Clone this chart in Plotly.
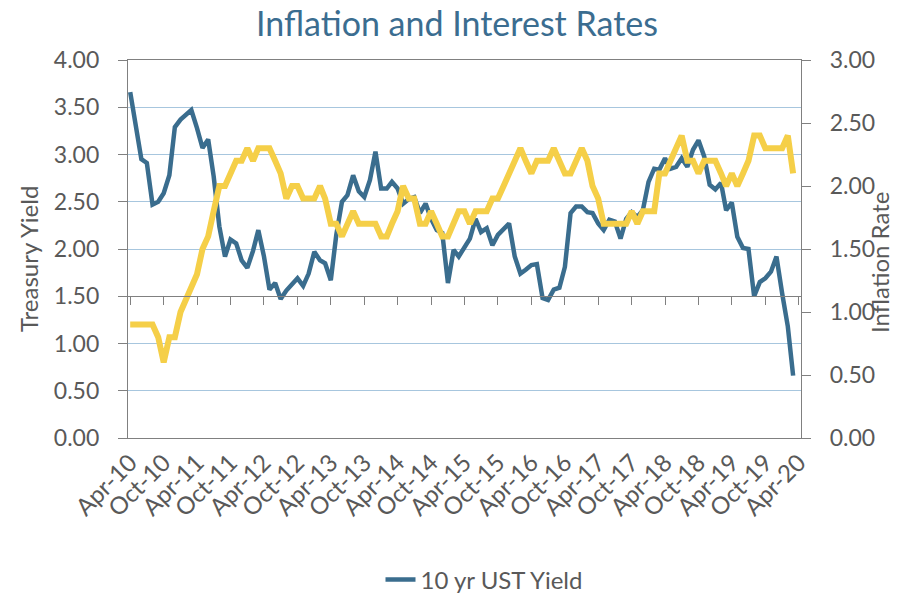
import plotly.graph_objects as go
import pandas as pd

months = pd.date_range("2010-04-01", periods=120, freq="MS")

ust_yield = [
    3.66, 3.30, 2.95, 2.91, 2.47, 2.50, 2.59, 2.78, 3.29, 3.37,
    3.42, 3.47, 3.28, 3.07, 3.16, 2.77, 2.24, 1.92, 2.10, 2.06,
    1.88, 1.80, 1.98, 2.20, 1.92, 1.57, 1.64, 1.47, 1.56, 1.63,
    1.69, 1.61, 1.74, 1.97, 1.88, 1.85, 1.67, 2.15, 2.50, 2.57,
    2.78, 2.61, 2.55, 2.73, 3.03, 2.64, 2.64, 2.71, 2.64, 2.48,
    2.53, 2.55, 2.38, 2.48, 2.32, 2.20, 2.17, 1.64, 1.99, 1.92,
    2.02, 2.11, 2.32, 2.18, 2.22, 2.04, 2.15, 2.22, 2.27, 1.92,
    1.74, 1.78, 1.83, 1.84, 1.48, 1.46, 1.57, 1.59, 1.81, 2.38,
    2.45, 2.45, 2.39, 2.38, 2.27, 2.20, 2.31, 2.29, 2.11, 2.32,
    2.39, 2.34, 2.41, 2.71, 2.85, 2.84, 2.96, 2.85, 2.87, 2.96,
    2.87, 3.05, 3.15, 2.98, 2.68, 2.63, 2.70, 2.41, 2.49, 2.13,
    2.01, 2.00, 1.50, 1.65, 1.69, 1.76, 1.92, 1.53, 1.18, 0.66,
]

inflation = [
    0.9, 0.9, 0.9, 0.9, 0.9, 0.8, 0.6, 0.8, 0.8, 1.0,
    1.1, 1.2, 1.3, 1.5, 1.6, 1.8, 2.0, 2.0, 2.1, 2.2,
    2.2, 2.3, 2.2, 2.3, 2.3, 2.3, 2.2, 2.1, 1.9, 2.0,
    2.0, 1.9, 1.9, 1.9, 2.0, 1.9, 1.7, 1.7, 1.6, 1.7,
    1.8, 1.7, 1.7, 1.7, 1.7, 1.6, 1.6, 1.7, 1.8, 2.0,
    1.9, 1.9, 1.7, 1.7, 1.8, 1.7, 1.6, 1.6, 1.7, 1.8,
    1.8, 1.7, 1.8, 1.8, 1.8, 1.9, 1.9, 2.0, 2.1, 2.2,
    2.3, 2.2, 2.1, 2.2, 2.2, 2.2, 2.3, 2.2, 2.1, 2.1,
    2.2, 2.3, 2.2, 2.0, 1.9, 1.7, 1.7, 1.7, 1.7, 1.7,
    1.8, 1.7, 1.8, 1.8, 1.8, 2.1, 2.1, 2.2, 2.3, 2.4,
    2.2, 2.2, 2.1, 2.2, 2.2, 2.2, 2.1, 2.0, 2.1, 2.0,
    2.1, 2.2, 2.4, 2.4, 2.3, 2.3, 2.3, 2.3, 2.4, 2.1,
]

left_ticks = [0, 0.5, 1.0, 1.5, 2.0, 2.5, 3.0, 3.5, 4.0]
right_ticks = [0, 0.5, 1.0, 1.5, 2.0, 2.5, 3.0]

BLUE = "#3A6D8E"
YELLOW = "#F5CF48"
GRAY = "#595959"
AXIS = "#808080"
GRID = "#A7C6DE"
FONT = "Lato"

x_range = ["2010-03-20", "2020-04-13"]

# page is offset by the browser's default 8px body margin
OFF = 8
W, H = 903 - OFF, 594 - OFF
plot_l, plot_r, plot_t, plot_b = 128, 801, 60, 438   # target page pixels
ml = plot_l - OFF
mt = plot_t - OFF
pw = plot_r - plot_l
ph = plot_b - plot_t
mr = W - ml - pw
mb = H - mt - ph


def px(xp):
    return (xp - plot_l) / pw


def py(yp):
    return (plot_b - yp) / ph


fig = go.Figure()
fig.add_trace(go.Scatter(
    x=months, y=ust_yield, mode="lines", name="10 yr UST Yield",
    line=dict(color=BLUE, width=4.5), xaxis="x", yaxis="y",
))
fig.add_trace(go.Scatter(
    x=months, y=inflation, mode="lines", name="Inflation Rate",
    line=dict(color=YELLOW, width=6), xaxis="x2", yaxis="y2",
    showlegend=False,
))

fig.update_layout(
    template="none",
    width=W, height=H,
    margin=dict(l=ml, r=mr, t=mt, b=mb, pad=0, autoexpand=False),
    paper_bgcolor="white", plot_bgcolor="white",
    font=dict(family=FONT, color=GRAY, size=22),
    title=dict(
        text="Inflation and Interest Rates",
        font=dict(family=FONT, size=34, color="#3B6D90"),
        x=px(457), xref="paper", xanchor="center",
        y=1, yref="container", yanchor="top", pad=dict(t=4),
    ),
    xaxis=dict(
        type="date", range=x_range, tick0="2010-04-01", dtick="M6",
        tickformat="%b-%y", tickangle=-45, ticks="", automargin=False,
        showgrid=False, showline=True, linecolor=AXIS, linewidth=1.3,
        mirror=True, zeroline=False,
        tickfont=dict(family=FONT, size=24, color=GRAY),
    ),
    xaxis2=dict(
        type="date", range=x_range, tick0="2010-04-01", dtick="M6",
        overlaying="x", anchor="free", position=1.5 / 4.0,
        showticklabels=False, ticks="outside", ticklen=8, tickcolor=AXIS,
        tickwidth=1.3, automargin=False,
        showgrid=False, showline=True, linecolor=AXIS, linewidth=1.3,
        zeroline=False,
    ),
    yaxis=dict(
        range=[0, 4], tickvals=left_ticks, tickformat=".2f",
        ticks="outside", ticklen=9, tickcolor=AXIS, tickwidth=1.3,
        ticklabelstandoff=14, automargin=False,
        showgrid=True, gridcolor=GRID, gridwidth=1.3,
        showline=True, linecolor=AXIS, linewidth=1.3, zeroline=False,
        tickfont=dict(family=FONT, size=23, color=GRAY),
    ),
    yaxis2=dict(
        range=[0, 3], tickvals=right_ticks, tickformat=".2f",
        overlaying="y", side="right", anchor="x2",
        ticks="outside", ticklen=9, tickcolor=AXIS, tickwidth=1.3,
        ticklabelstandoff=14, automargin=False,
        showgrid=False, showline=True, linecolor=AXIS, linewidth=1.3,
        zeroline=False,
        tickfont=dict(family=FONT, size=23, color=GRAY),
    ),
    showlegend=True,
    legend=dict(
        orientation="h", x=px(484), xanchor="center",
        y=py(580), yanchor="middle",
        font=dict(family=FONT, size=24, color=GRAY),
        bgcolor="rgba(0,0,0,0)",
    ),
    annotations=[
        dict(text="Treasury Yield", textangle=-90, showarrow=False,
             xref="paper", yref="paper",
             x=px(28), y=py(259),
             xanchor="center", yanchor="middle",
             font=dict(family=FONT, size=24, color=GRAY)),
        dict(text="Inflation Rate", textangle=-90, showarrow=False,
             xref="paper", yref="paper",
             x=px(880), y=py(263),
             xanchor="center", yanchor="middle",
             font=dict(family=FONT, size=24, color=GRAY)),
    ],
)

fig.write_html("out.html")
